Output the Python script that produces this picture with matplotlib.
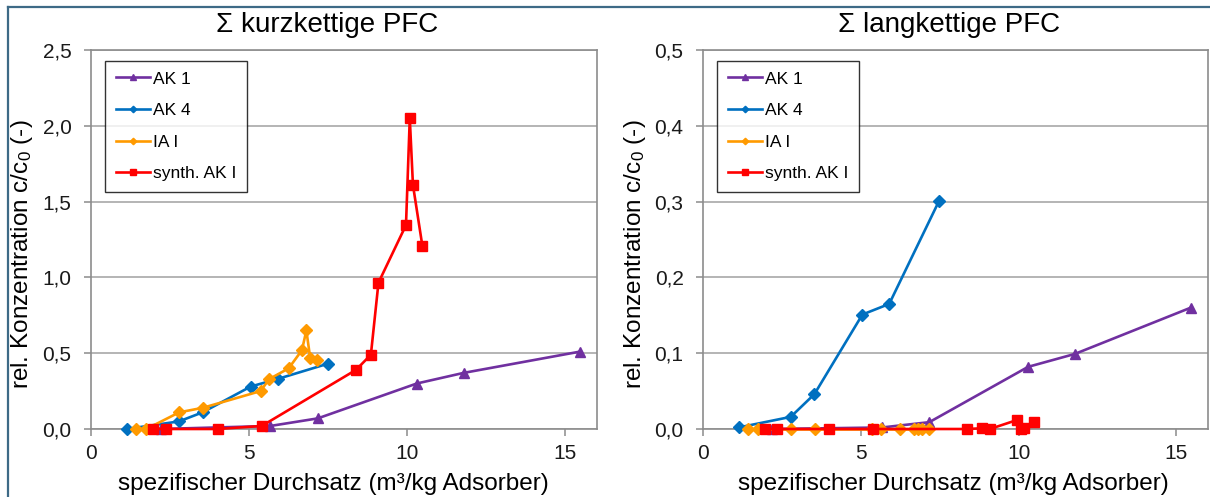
import numpy as np
import matplotlib
matplotlib.use("Agg")
import matplotlib.pyplot as plt
from matplotlib.ticker import FuncFormatter, MultipleLocator
from matplotlib.lines import Line2D

plt.rcParams["font.family"] = ["Liberation Sans", "DejaVu Sans"]
plt.rcParams["mathtext.fontset"] = "custom"
plt.rcParams["mathtext.rm"] = "Liberation Sans"
plt.rcParams["mathtext.it"] = "Liberation Sans"

# ── Data ──────────────────────────────────────────────────────────────────────
x_ak1 = [2.2, 5.67, 7.17, 10.3, 11.78, 15.45]
kurz_ak1 = [0.0, 0.02, 0.07, 0.30, 0.37, 0.51]
lang_ak1 = [0.0, 0.002, 0.009, 0.082, 0.099, 0.160]

x_ak4 = [1.13, 2.78, 3.53, 5.05, 5.9, 7.48]
kurz_ak4 = [0.0, 0.05, 0.11, 0.28, 0.33, 0.43]
lang_ak4 = [0.002, 0.016, 0.046, 0.151, 0.165, 0.301]

x_ia = [1.43, 1.75, 2.79, 3.54, 5.36, 5.64, 6.25, 6.67, 6.81, 6.93, 7.15]
kurz_ia = [0.0, 0.0, 0.11, 0.14, 0.25, 0.33, 0.40, 0.52, 0.65, 0.47, 0.455]
lang_ia = [0.0, 0.0, 0.0, 0.0, 0.0, 0.0, 0.0, 0.0, 0.0, 0.0, 0.0]

x_synth = [1.96, 2.36, 4.0, 5.4, 8.38, 8.85, 9.09, 9.96, 10.08, 10.18, 10.48]
kurz_synth = [0.0, 0.0, 0.0, 0.02, 0.39, 0.49, 0.965, 1.345, 2.05, 1.61, 1.205]
lang_synth = [0.0, 0.0, 0.0, 0.0, 0.0, 0.001, 0.0, 0.012, 0.0, 0.001, 0.009]

series = [
    ("AK 1", "#7030A0", "^", x_ak1, kurz_ak1, lang_ak1),
    ("AK 4", "#0070C0", "D", x_ak4, kurz_ak4, lang_ak4),
    ("IA I", "#FF9A00", "D", x_ia, kurz_ia, lang_ia),
    ("synth. AK I", "#FF0000", "s", x_synth, kurz_synth, lang_synth),
]

titles = ["Σ kurzkettige PFC", "Σ langkettige PFC"]
y_max = [2.5, 0.5]
y_step = [0.5, 0.1]
x_ticks = [0, 5, 10, 15]

W, H = 1210, 497
fig = plt.figure(figsize=(W / 100, H / 100), dpi=100)

# frame lines of the original chart box
fig.add_artist(Line2D([8 / W, 1], [1 - 6.5 / H, 1 - 6.5 / H], color="#3E6A86", lw=1.6))
fig.add_artist(Line2D([8 / W, 8 / W], [0, 1 - 6.5 / H], color="#3E6A86", lw=1.6))

axes_px = [(91, 597), (703, 1208)]
title_x = [327, 949]
xlabel_x = [333, 953]
ylabel_x = [22, 635]

comma = FuncFormatter(lambda v, pos: f"{v:.1f}".replace(".", ","))

for i, (x0, x1) in enumerate(axes_px):
    ax = fig.add_axes([x0 / W, 1 - 429 / H, (x1 - x0) / W, (429 - 50) / H])
    for label, color, marker, xs, yk, yl in series:
        ys = yk if i == 0 else yl
        ms = 7 if marker == "s" else (7.5 if marker == "^" else 6)
        ax.plot(xs, ys, color=color, lw=1.9, marker=marker, ms=ms,
                label=label, clip_on=False, zorder=3)

    ax.set_xlim(0, 16)
    ax.set_ylim(0, y_max[i])
    ax.set_xticks(x_ticks)
    ax.yaxis.set_major_locator(MultipleLocator(y_step[i]))
    ax.yaxis.set_major_formatter(comma)
    ax.grid(axis="y", color="#A0A0A0", lw=1.1)
    ax.set_axisbelow(True)
    for sp in ax.spines.values():
        sp.set_color("#8C8C8C")
        sp.set_linewidth(1.2)
    ax.tick_params(axis="both", direction="out", length=5, width=1.1,
                   color="#8C8C8C", labelsize=15, labelcolor="#1A1A1A")
    ax.tick_params(axis="y", pad=9)
    ax.tick_params(axis="x", pad=6)

    leg = ax.legend(loc="upper left", bbox_to_anchor=(0.028, 0.971),
                    borderaxespad=0, fontsize=12.5, frameon=True,
                    fancybox=False, edgecolor="black", markerscale=0.55,
                    handlelength=2.0, handletextpad=0.15, labelspacing=0.95,
                    borderpad=0.6)
    leg.get_frame().set_linewidth(1.0)

    fig.text(title_x[i] / W, 1 - 25 / H, titles[i], ha="center", va="center",
             fontsize=20)
    fig.text(xlabel_x[i] / W, 1 - 484 / H,
             "spezifischer Durchsatz (m³/kg Adsorber)",
             ha="center", va="center", fontsize=17.5)
    fig.text(ylabel_x[i] / W, 1 - 254 / H,
             r"rel. Konzentration c/c$_0$ (-)",
             ha="center", va="center", rotation=90, fontsize=17.5)

fig.savefig("out.png", dpi=100)
